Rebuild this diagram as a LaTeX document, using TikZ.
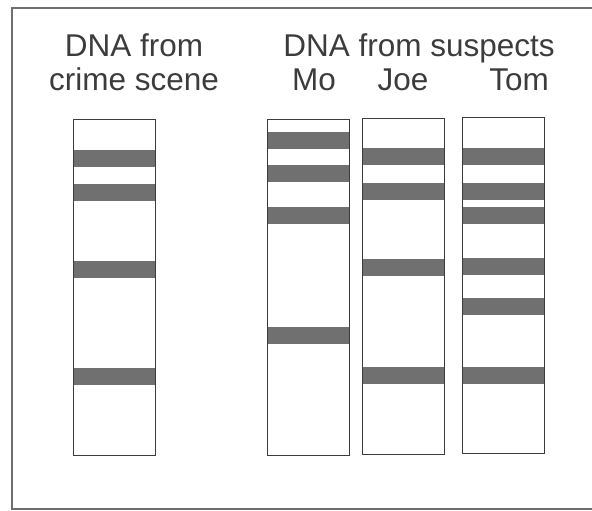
\documentclass[tikz,border=0pt]{standalone}
\usepackage{fontspec}
\setmainfont{Liberation Sans}
\usepackage{tikz}
\usetikzlibrary{positioning,backgrounds}
\definecolor{fontgray}{RGB}{60, 60, 60}
\definecolor{bandgray}{RGB}{112, 112, 112}
\definecolor{framegray}{RGB}{110, 110, 110}

\begin{document}
\begin{tikzpicture}[x=1pt, y=-1pt, node distance=0pt,
			lbl/.style={draw=none, anchor=base, inner sep=0pt, text=fontgray, font=\fontsize{31.5}{34}\selectfont},
			lane/.style={draw=fontgray, rectangle, line width=1pt, minimum width=82pt, minimum height=336pt, inner sep=0pt, outer sep=0pt, anchor=north},
			band/.style={draw=none, rectangle, fill=bandgray, minimum width=82pt, minimum height=17pt, inner sep=0pt, outer sep=0pt},
			frameLine/.style={line width=2.5pt, color=framegray}
			]
			\clip (0,0) rectangle (592,511);
			\draw [frameLine] (600,8) -- (12,8) -- (12,509) -- (600,509);
			
			\node[lbl](cs1) at (134,57) {DNA from};
			\node[lbl](cs2) at (134,91) {crime scene};
			\node[lbl](su1) at (419,57) {DNA from suspects};
			\node[lbl](nmo) at (314,91) {Mo};
			\node[lbl](njoe) at (403,91) {Joe};
			\node[lbl](ntom) at (519,91) {Tom};
			
			\node[lane](c0) at (114,119) {};
			\node[lane](mo) at (308.5,119) {};
			\node[lane](joe) at (403.5,118) {};
			\node[lane](tom) at (503,117) {};
			
			\begin{pgfonlayer}{background}
			\node[band](c0b1) [below = 31pt of c0.north] {};
			\node[band](c0b2) [below = 65pt of c0.north] {};
			\node[band](c0b3) [below = 142pt of c0.north] {};
			\node[band](c0b4) [below = 249pt of c0.north] {};
			
			\node[band](mob1) [below = 13pt of mo.north] {};
			\node[band](mob2) [below = 46pt of mo.north] {};
			\node[band](mob3) [below = 88pt of mo.north] {};
			\node[band](mob4) [below = 208pt of mo.north] {};
			
			\node[band](joeb1) [below = 30pt of joe.north] {};
			\node[band](joeb2) [below = 65pt of joe.north] {};
			\node[band](joeb3) [below = 141pt of joe.north] {};
			\node[band](joeb4) [below = 249pt of joe.north] {};
			
			\node[band](tomb1) [below = 31pt of tom.north] {};
			\node[band](tomb2) [below = 66pt of tom.north] {};
			\node[band](tomb3) [below = 90pt of tom.north] {};
			\node[band](tomb4) [below = 141pt of tom.north] {};
			\node[band](tomb5) [below = 181pt of tom.north] {};
			\node[band](tomb6) [below = 250pt of tom.north] {};
			\end{pgfonlayer}
\end{tikzpicture}
\end{document}
